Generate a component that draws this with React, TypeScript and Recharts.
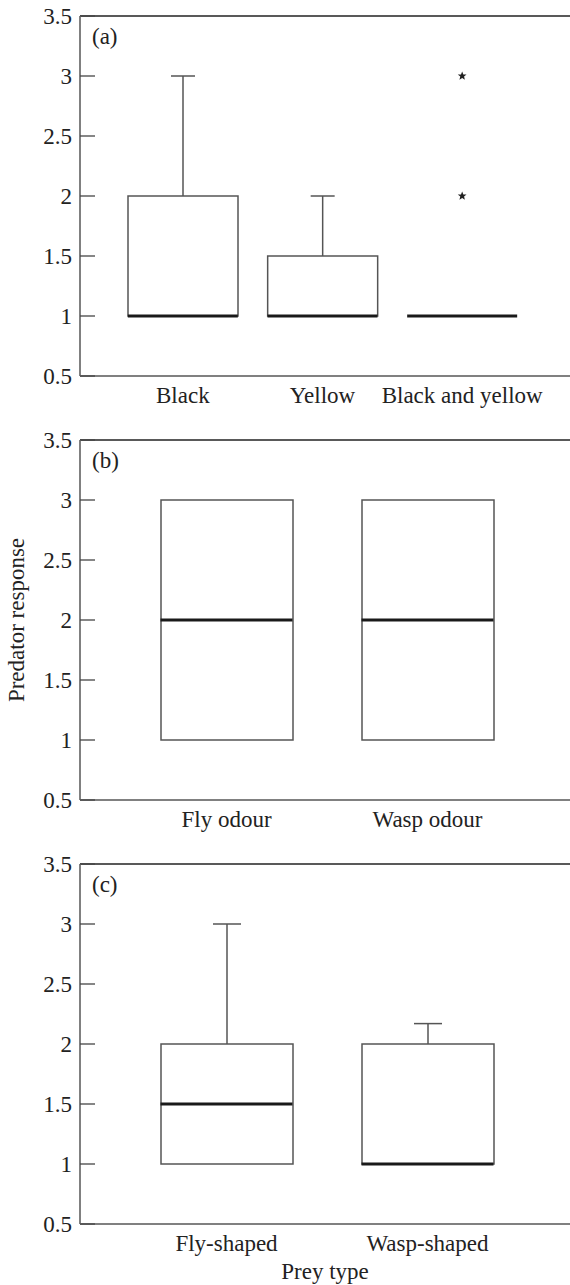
import React from 'react';
import { ComposedChart, Bar, Scatter, XAxis, YAxis, ReferenceLine } from 'recharts';

const font = "'Liberation Serif', 'Times New Roman', serif";
const fontSize = 23;
const yTicks = [0.5, 1, 1.5, 2, 2.5, 3, 3.5];

// (a) colour
const colourNames = ['Black', 'Yellow', 'Black and yellow'];
const colourMin = [1, 1, 1];
const colourQ1 = [1, 1, 1];
const colourMedian = [1, 1, 1];
const colourQ3 = [2, 1.5, 1];
const colourMax = [3, 2, 1];
const colourOutliers = [
  { name: 'Black and yellow', value: 2 },
  { name: 'Black and yellow', value: 3 },
];

// (b) odour
const odourNames = ['Fly odour', 'Wasp odour'];
const odourMin = [1, 1];
const odourQ1 = [1, 1];
const odourMedian = [2, 2];
const odourQ3 = [3, 3];
const odourMax = [3, 3];

// (c) shape
const shapeNames = ['Fly-shaped', 'Wasp-shaped'];
const shapeMin = [1, 1];
const shapeQ1 = [1, 1];
const shapeMedian = [1.5, 1];
const shapeQ3 = [2, 2];
const shapeMax = [3, 2.17];

const buildRows = (names: string[], min: number[], q1: number[], median: number[], q3: number[], max: number[]) =>
  names.map((name, i) => ({
    name,
    base: min[i],
    lowW: q1[i] - min[i],
    box: q3[i] - q1[i],
    highW: max[i] - q3[i],
    median: median[i],
  }));

const YTick = (props: any) => {
  const { x, y, payload } = props;
  return (
    <g>
      <line x1={x} x2={x + 15} y1={y} y2={y} stroke="#444" strokeWidth={1.3} />
      <text x={x - 8} y={y} dy="0.35em" textAnchor="end" fontSize={fontSize} fontFamily={font} fill="#222">
        {payload.value}
      </text>
    </g>
  );
};

const boxShape = (p: any) => {
  const top = Math.min(p.y, p.y + p.height);
  const h = Math.abs(p.height);
  if (!h) return <g />;
  return <rect x={p.x} y={top} width={p.width} height={h} fill="#fff" stroke="#555" strokeWidth={1.5} />;
};

const whiskerShape = (cap: number, up: boolean) => (p: any) => {
  const h = Math.abs(p.height);
  if (!h) return <g />;
  const top = Math.min(p.y, p.y + p.height);
  const bot = top + h;
  const cx = p.x + p.width / 2;
  const end = up ? top : bot;
  return (
    <g stroke="#555" strokeWidth={1.5}>
      <line x1={cx} x2={cx} y1={top} y2={bot} />
      <line x1={cx - cap / 2} x2={cx + cap / 2} y1={end} y2={end} />
    </g>
  );
};

const medianShape = (w: number) => (p: any) => (
  <line x1={p.cx - w / 2} x2={p.cx + w / 2} y1={p.cy} y2={p.cy} stroke="#1a1a1a" strokeWidth={3} />
);

const starShape = (p: any) => {
  const pts: string[] = [];
  for (let i = 0; i < 10; i++) {
    const r = i % 2 === 0 ? 4.6 : 2;
    const a = -Math.PI / 2 + (i * Math.PI) / 5;
    pts.push(`${p.cx + r * Math.cos(a)},${p.cy + r * Math.sin(a)}`);
  }
  return <polygon points={pts.join(' ')} fill="#222" />;
};

const Panel = (props: any) => {
  const { rows, outliers, tag, boxWidth, capWidth, padding, height, xAxisHeight, yLabel, xLabel } = props;
  return (
    <ComposedChart width={570} height={height} data={rows} margin={{ top: 16, right: 0, bottom: 0, left: 0 }}>
      <XAxis
        dataKey="name"
        type="category"
        allowDuplicatedCategory={false}
        padding={padding}
        height={xAxisHeight}
        interval={0}
        tickLine={false}
        tickSize={0}
        tickMargin={11}
        axisLine={{ stroke: '#808080', strokeWidth: 2 }}
        tick={{ fontSize, fontFamily: font, fill: '#222' }}
        label={
          xLabel
            ? { value: xLabel, position: 'insideBottom', offset: 6, fontSize, fontFamily: font, fill: '#222' }
            : undefined
        }
      />
      <YAxis
        type="number"
        domain={[0.5, 3.5]}
        ticks={yTicks}
        allowDataOverflow
        interval={0}
        width={80}
        tickLine={false}
        tickSize={0}
        tickMargin={0}
        axisLine={{ stroke: '#808080', strokeWidth: 2 }}
        tick={<YTick />}
        label={
          yLabel
            ? {
                content: ({ viewBox }: any) => {
                  const cx = viewBox.x + 16;
                  const cy = viewBox.y + viewBox.height / 2;
                  return (
                    <text
                      x={cx}
                      y={cy}
                      transform={`rotate(-90 ${cx} ${cy})`}
                      textAnchor="middle"
                      dominantBaseline="central"
                      fontSize={fontSize}
                      fontFamily={font}
                      fill="#222"
                    >
                      {yLabel}
                    </text>
                  );
                },
              }
            : undefined
        }
      />
      <ReferenceLine
        y={3.5}
        stroke="#222"
        strokeWidth={1.5}
        label={{ value: tag, position: 'insideTopLeft', offset: 12, fontSize, fontFamily: font, fill: '#222' }}
      />
      <Bar dataKey="base" stackId="s" fill="transparent" barSize={boxWidth} isAnimationActive={false} shape={() => <g />} />
      <Bar dataKey="lowW" stackId="s" barSize={boxWidth} isAnimationActive={false} shape={whiskerShape(capWidth, false)} />
      <Bar dataKey="box" stackId="s" barSize={boxWidth} isAnimationActive={false} shape={boxShape} />
      <Bar dataKey="highW" stackId="s" barSize={boxWidth} isAnimationActive={false} shape={whiskerShape(capWidth, true)} />
      <Scatter dataKey="median" isAnimationActive={false} shape={medianShape(boxWidth)} />
      {outliers && <Scatter data={outliers} dataKey="value" isAnimationActive={false} shape={starShape} />}
    </ComposedChart>
  );
};

export default function App() {
  const colourRows = buildRows(colourNames, colourMin, colourQ1, colourMedian, colourQ3, colourMax);
  const odourRows = buildRows(odourNames, odourMin, odourQ1, odourMedian, odourQ3, odourMax);
  const shapeRows = buildRows(shapeNames, shapeMin, shapeQ1, shapeMedian, shapeQ3, shapeMax);
  return (
    <div style={{ position: 'absolute', left: 0, top: 0, width: 570, height: 1285, background: '#fff' }}>
      <div style={{ position: 'absolute', left: 0, top: 0 }}>
        <Panel
          rows={colourRows}
          outliers={colourOutliers}
          tag="(a)"
          boxWidth={110}
          capWidth={24}
          padding={{ left: 33, right: 38 }}
          height={424}
          xAxisHeight={48}
        />
      </div>
      <div style={{ position: 'absolute', left: 0, top: 424 }}>
        <Panel
          rows={odourRows}
          tag="(b)"
          boxWidth={132}
          capWidth={28}
          padding={{ left: 46, right: 42 }}
          height={424}
          xAxisHeight={48}
          yLabel="Predator response"
        />
      </div>
      <div style={{ position: 'absolute', left: 0, top: 848 }}>
        <Panel
          rows={shapeRows}
          tag="(c)"
          boxWidth={132}
          capWidth={28}
          padding={{ left: 46, right: 42 }}
          height={437}
          xAxisHeight={61}
          xLabel="Prey type"
        />
      </div>
    </div>
  );
}
